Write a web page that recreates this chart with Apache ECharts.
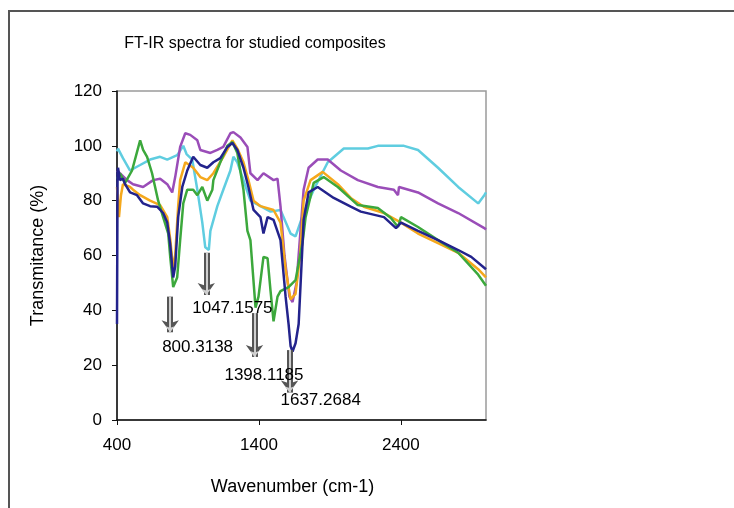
<!DOCTYPE html>
<html>
<head>
<meta charset="utf-8">
<script src="https://cdn.jsdelivr.net/npm/echarts@6/dist/echarts.min.js"></script>
<style>
html,body{margin:0;padding:0;background:#fff;}
#chart{width:734px;height:508px;}
</style>
</head>
<body>
<div id="chart"></div>
<script>
// ---- data ----
const xTicks = [400, 1400, 2400];

const navyWave = [400,404,407,421,442,457,492,541,584,633,683,725,754,775,796,810,831,860,895,937,987,1036,1079,1128,1178,1213,1248,1291,1326,1362,1411,1432,1461,1503,1552,1588,1609,1623,1637,1658,1680,1708,1715,1750,1814,1927,2047,2118,2281,2366,2401,2521,2662,2804,2896,3000];
const navyT    = [35,90,92,87.5,88,86,83,82,79,78,77.8,75.5,72,64,52,56,74,85,91,96,93,92,94,95.5,99.6,101,98.5,92,85,76.6,74,68,74,73,65.6,45,35,27,25,28,35,65,73,83,85,81,77.8,76,74,70,72,69,65.6,62,59.5,55];

const orangeWave = [400,414,428,442,492,513,563,633,704,754,775,796,810,831,845,881,937,987,1036,1079,1149,1213,1248,1291,1326,1362,1411,1503,1552,1588,1623,1658,1690,1715,1764,1849,1956,2047,2139,2281,2401,2521,2662,2804,2945,3000];
const orangeT    = [85,74,82,86,85,84,82,80,78.4,74,66,55,60,78,87.5,94,92,88.6,87.5,90,96,102,99,94,87.5,80,78,76.6,72,55,44,46,60,80,87.5,90.5,86,81,77.8,75.5,72,68,64.5,61,55,52];

const purpleWave = [400,471,513,584,655,704,754,789,810,845,881,916,966,987,1058,1107,1149,1199,1220,1270,1319,1340,1390,1432,1503,1531,1552,1580,1615,1637,1665,1715,1750,1814,1885,1977,2097,2238,2351,2380,2387,2521,2662,2804,2988,3000];
const purpleT    = [91,87.5,86,85,87.5,88,86,83,88.6,99.6,104.6,104,102,98.5,97.4,98.5,99.6,104.6,105,103,99.6,90,87.5,90,87.5,88,78,60,45,43,50,84,92,95,95,91,87.5,85,84,82,85,83,79,75.5,70,69.5];

const greenWave = [400,421,457,506,563,584,612,647,690,725,761,775,796,824,845,867,895,937,966,1001,1036,1072,1079,1128,1178,1213,1248,1291,1319,1340,1376,1397,1432,1461,1482,1503,1531,1552,1609,1658,1708,1729,1786,1856,1956,2097,2238,2330,2380,2401,2521,2662,2804,2945,3000];
const greenT    = [88,90,86.5,91,102,98.5,96,90,80,74,68,59.5,48.5,52,65.6,79,84,84,82,85,80,84,87.5,94,100,101.4,97.4,84,69,65.6,41,45,59.5,59,47,36,45,47,48.5,51,65,74,86.5,88.6,85,78.4,77.3,73.7,70.4,74,70.4,65.6,61,53,49];

const cyanWave = [400,407,442,492,563,633,704,754,824,867,890,930,966,1001,1022,1047,1058,1107,1149,1199,1220,1248,1291,1340,1411,1482,1552,1623,1658,1715,1786,1885,1998,2168,2238,2422,2521,2662,2804,2945,2988,3000];
const cyanT    = [98,99,95.5,91,93,95,96,95,96.6,100,97,95,84,72,63,62,69,78,84,91,96,94,87.5,80,78,76,76.6,68,67,75.5,84,94,99,99,100,100,98.5,92,85,79,82,83];

// peak annotations
const peakLabels  = ['800.3138', '1047.1575', '1398.1185', '1637.2684'];
const arrowWave   = [775, 1029, 1369, 1616];
const arrowTop    = [45, 61, 39, 25.5];
const arrowBottom = [32, 45.6, 23, 10];
const labelWave   = [718, 930, 1157, 1552];
const labelT      = [26.6, 40.8, 16.4, 7.3];

// ---- build ----
function pairs(xs, ys){ return xs.map((x,i)=>[x, ys[i]]); }

const FONT = 'Liberation Sans';
const seriesDefs = [
  {name:'cyan',   wave:cyanWave,   t:cyanT,   color:'#5fcde0'},
  {name:'purple', wave:purpleWave, t:purpleT, color:'#9a4db8'},
  {name:'orange', wave:orangeWave, t:orangeT, color:'#f5a81c'},
  {name:'green',  wave:greenWave,  t:greenT,  color:'#3ca83c'},
  {name:'navy',   wave:navyWave,   t:navyT,   color:'#23238c'}
];

const series = seriesDefs.map(s => ({
  type:'line', name:s.name, data:pairs(s.wave, s.t),
  showSymbol:false, smooth:false,
  lineStyle:{color:s.color, width:2.5},
  itemStyle:{color:s.color},
  animation:false, silent:true
}));

const arrowPairs = arrowWave.map((w,i)=>[{coord:[w, arrowTop[i]]},{coord:[w, arrowBottom[i]]}]);
series.push({
  type:'line', name:'arrows', data:[], silent:true, animation:false,
  markLine:{
    silent:true, animation:false,
    symbol:['none','arrow'], symbolSize:[13,12],
    label:{show:false},
    lineStyle:{color:'#555', width:6, type:'solid', opacity:1},
    data: arrowPairs
  }
});
series.push({
  type:'line', name:'arrowsInner', data:[], silent:true, animation:false,
  markLine:{
    silent:true, animation:false,
    symbol:['none','arrow'], symbolSize:[7,6],
    label:{show:false},
    lineStyle:{color:'#cfcfcf', width:2, type:'solid', opacity:1},
    data: arrowPairs
  }
});

series.push({
  type:'scatter', name:'labels', symbolSize:0, silent:true, animation:false,
  itemStyle:{opacity:1},
  data: labelWave.map((w,i)=>({value:[w, labelT[i]], name:peakLabels[i]})),
  label:{show:true, position:'right', distance:0, formatter:'{b}', opacity:1,
    color:'#000', fontSize:17, fontFamily:FONT},
  z:10
});

const chart = echarts.init(document.getElementById('chart'), null, {renderer:'canvas'});
chart.setOption({
  animation:false,
  backgroundColor:'#ffffff',
  title:{
    text:'FT-IR spectra for studied composites',
    left:250, top:31, textAlign:'center',
    textStyle:{fontFamily:FONT, fontSize:16, fontWeight:'normal', color:'#000'}
  },
  graphic:[
    {type:'rect', shape:{x:9, y:11, width:900, height:700},
     style:{fill:'none', stroke:'#555', lineWidth:2}, silent:true}
  ],
  grid:{left:117, right:248, top:91, bottom:88, show:true, borderColor:'#9a9a9a', borderWidth:1.5, backgroundColor:'transparent'},
  xAxis:{
    type:'value', min:400, max:3000, interval:1000,
    name:'Wavenumber (cm-1)', nameLocation:'middle', nameGap:58,
    nameTextStyle:{fontFamily:FONT, fontSize:18, color:'#000', padding:[0,18,0,0]},
    axisLine:{show:true, onZero:false, lineStyle:{color:'#111', width:1.5}},
    axisTick:{show:true, inside:false, length:5, lineStyle:{color:'#111'}},
    axisLabel:{fontFamily:FONT, fontSize:17, color:'#000', margin:17, showMaxLabel:false,
      formatter: v => String(v)},
    splitLine:{show:false}
  },
  yAxis:{
    type:'value', min:0, max:120, interval:20,
    name:'Transmitance (%)', nameLocation:'middle', nameGap:70, nameRotate:90,
    nameTextStyle:{fontFamily:FONT, fontSize:18, color:'#000'},
    axisLine:{show:true, lineStyle:{color:'#111', width:1.5}},
    axisTick:{show:true, inside:false, length:5, lineStyle:{color:'#111'}},
    axisLabel:{fontFamily:FONT, fontSize:17, color:'#000', margin:15,
      formatter: v => String(v)},
    splitLine:{show:false}
  },
  series: series
});
</script>
</body>
</html>
